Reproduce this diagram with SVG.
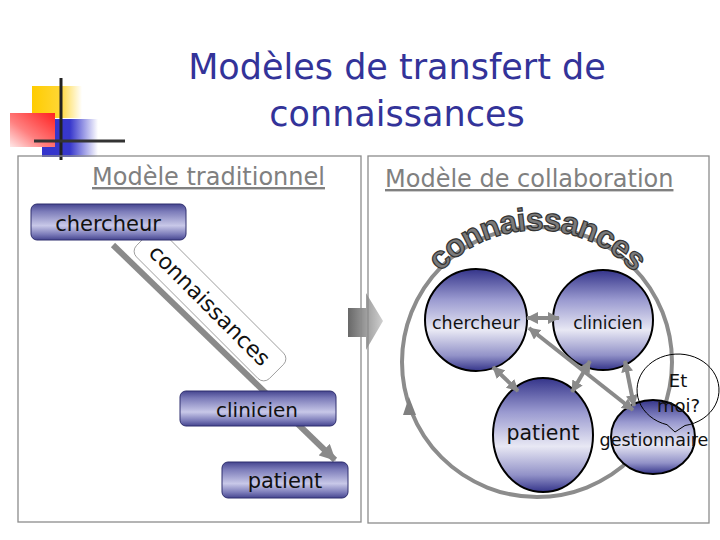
<svg xmlns="http://www.w3.org/2000/svg" width="720" height="540" viewBox="0 0 720 540">
<style>
.t{font-family:"DejaVu Sans","Liberation Sans",sans-serif;fill:#111}
.ttl{font-family:"DejaVu Sans","Liberation Sans",sans-serif;fill:#333399;font-size:35px;text-anchor:middle}
.sub{font-family:"DejaVu Sans","Liberation Sans",sans-serif;fill:#808080;font-size:24px;text-decoration:underline}
.panel{fill:none;stroke:#8c8c8c;stroke-width:1.3}
.box{fill:url(#gBox);stroke:#2e2e6e;stroke-width:1}
.circ{fill:url(#gCirc);stroke:#000;stroke-width:2}
.arr{stroke:#8a8a8a;stroke-width:4;fill:none;marker-start:url(#ah);marker-end:url(#ah)}
</style>
<defs>
<linearGradient id="gY" x1="0" y1="0" x2="1" y2="0"><stop offset="0" stop-color="#ffcc00"/><stop offset="0.55" stop-color="#ffd633"/><stop offset="1" stop-color="#ffffff"/></linearGradient>
<linearGradient id="gB" x1="0" y1="0" x2="1" y2="0"><stop offset="0" stop-color="#3333cc"/><stop offset="0.5" stop-color="#3838cc"/><stop offset="1" stop-color="#ffffff"/></linearGradient>
<linearGradient id="gR" x1="1" y1="0" x2="0" y2="1"><stop offset="0" stop-color="#ff2020"/><stop offset="0.6" stop-color="#ff8080"/><stop offset="1" stop-color="#ffe8e8"/></linearGradient>
<linearGradient id="gBox" x1="0" y1="0" x2="0" y2="1"><stop offset="0" stop-color="#45458f"/><stop offset="0.2" stop-color="#7a7ab8"/><stop offset="0.6" stop-color="#c8c8e8"/><stop offset="0.85" stop-color="#7a7ab8"/><stop offset="1" stop-color="#45458f"/></linearGradient>
<linearGradient id="gCirc" x1="0" y1="0" x2="0" y2="1"><stop offset="0" stop-color="#34348a"/><stop offset="0.3" stop-color="#9a9ad0"/><stop offset="0.6" stop-color="#e8e8f4"/><stop offset="0.85" stop-color="#9292c8"/><stop offset="1" stop-color="#34348a"/></linearGradient>
<linearGradient id="gArr" x1="0" y1="0" x2="1" y2="0"><stop offset="0" stop-color="#686868"/><stop offset="1" stop-color="#d0d0d0"/></linearGradient>
<marker id="ah" viewBox="0 0 12 12" refX="11" refY="6" markerWidth="12" markerHeight="12" markerUnits="userSpaceOnUse" orient="auto-start-reverse"><path d="M0,0 L12,6 L0,12 Z" fill="#8a8a8a"/></marker>
<marker id="ahBig" viewBox="0 0 16 16" refX="15" refY="8" markerWidth="16" markerHeight="16" markerUnits="userSpaceOnUse" orient="auto"><path d="M0,0 L16,8 L0,16 Z" fill="#8a8a8a"/></marker>
<path id="arcPath" d="M413,317 A132,132 0 0 1 661,317"/>
</defs>

<g id="logo">
<rect x="32" y="86" width="50" height="32" fill="url(#gY)"/>
<rect x="42" y="119" width="56" height="38" fill="url(#gB)"/>
<rect x="10" y="113" width="45" height="34" fill="url(#gR)"/>
<line x1="61" y1="78" x2="61" y2="160" stroke="#222" stroke-width="3"/>
<line x1="34" y1="141" x2="125" y2="141" stroke="#333" stroke-width="3"/>
</g>

<g id="title">
<text class="ttl" x="397" y="79">Modèles de transfert de</text>
<text class="ttl" x="397" y="126">connaissances</text>
</g>

<g id="transition-arrow">
<polygon points="348,308 366,308 366,293 383,321 366,350 366,337 348,337" fill="url(#gArr)"/>
</g>

<g id="panels">
<rect class="panel" x="18" y="156" width="343" height="366"/>
<rect class="panel" x="368" y="156" width="341" height="367"/>
<text class="sub" x="92" y="185">Modèle traditionnel</text>
<text class="sub" x="385" y="187">Modèle de collaboration</text>
</g>

<g id="connectors-left">
<line x1="113" y1="245" x2="335" y2="460" stroke="#8a8a8a" stroke-width="6" marker-end="url(#ahBig)"/>
</g>

<g id="label-connaissances-left" transform="translate(210,305) rotate(45)">
<rect x="-94" y="-18" width="188" height="36" rx="8" fill="#fff" stroke="#8c8c8c" stroke-width="0.8"/>
<text class="t" x="0" y="8" font-size="22" text-anchor="middle">connaissances</text>
</g>

<g id="node-chercheur-left">
<rect class="box" x="31" y="204" width="155" height="36" rx="6"/>
<text class="t" x="108" y="231" font-size="21" text-anchor="middle">chercheur</text>
</g>
<g id="node-clinicien-left">
<rect class="box" x="180" y="391" width="156" height="35" rx="6"/>
<text class="t" x="257" y="417" font-size="20" text-anchor="middle">clinicien</text>
</g>
<g id="node-patient-left">
<rect class="box" x="222" y="462" width="126" height="36" rx="6"/>
<text class="t" x="285" y="488" font-size="21" text-anchor="middle">patient</text>
</g>

<g id="ring">
<circle cx="537" cy="362" r="135" fill="none" stroke="#8c8c8c" stroke-width="4"/>
<polygon points="409,397 403,415 416,415" fill="#808080"/>
</g>

<g id="label-connaissances-right">
<text font-family="Liberation Sans, Arial, sans-serif" font-weight="bold" font-size="32" fill="#7a7a7a" stroke="#333" stroke-width="1.2" letter-spacing="-1"><textPath href="#arcPath" startOffset="50%" text-anchor="middle">connaissances</textPath></text>
</g>

<g id="node-chercheur">
<circle class="circ" cx="476" cy="320" r="51"/>
<text class="t" x="476" y="329" font-size="17.5" text-anchor="middle">chercheur</text>
</g>
<g id="node-clinicien">
<circle class="circ" cx="603" cy="320" r="50"/>
<text class="t" x="608" y="329" font-size="17" text-anchor="middle">clinicien</text>
</g>
<g id="node-patient">
<ellipse class="circ" cx="543" cy="435" rx="50" ry="57"/>
<text class="t" x="543" y="440" font-size="20.5" text-anchor="middle">patient</text>
</g>

<g id="node-gestionnaire">
<ellipse class="circ" cx="653" cy="437" rx="42" ry="37"/>
<text class="t" x="654" y="446" font-size="17.5" text-anchor="middle">gestionnaire</text>
</g>

<g id="connectors">
<line class="arr" x1="527" y1="318" x2="559" y2="318"/>
<line class="arr" x1="529" y1="328" x2="633" y2="410"/>
<line class="arr" x1="625" y1="361" x2="634" y2="406"/>
<line class="arr" x1="493" y1="367" x2="518" y2="391"/>
<line class="arr" x1="590" y1="361" x2="572" y2="392"/>
</g>

<g id="bubble-et-moi">
<path d="M667,424.7 L675,432 L685,425.5 A41,36 0 1 0 667,424.7 Z" fill="none" stroke="#000" stroke-width="1"/>
<text class="t" x="678" y="387" font-size="18" text-anchor="middle">Et</text>
<text class="t" x="678.5" y="412" font-size="18" text-anchor="middle">moi?</text>
</g>
</svg>
